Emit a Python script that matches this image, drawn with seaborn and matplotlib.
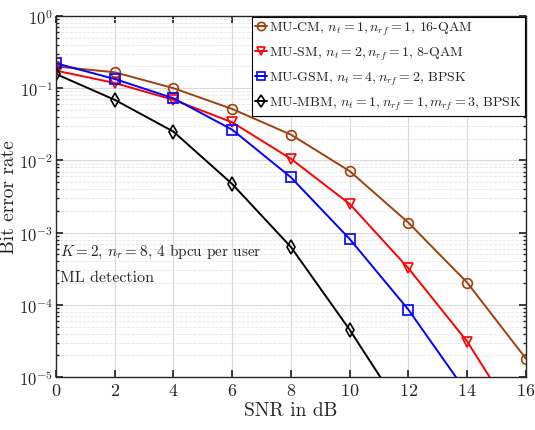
import matplotlib
matplotlib.use("Agg")
import matplotlib.pyplot as plt
import matplotlib.ticker as mticker
import pandas as pd
import seaborn as sns

snr_db = [0, 2, 4, 6, 8, 10, 12, 14, 16]

ber_cm = [0.20, 0.166, 0.100, 0.0515, 0.0227, 0.0071, 0.00137, 2.03e-4, 1.8e-5]
ber_sm = [0.175, 0.118, 0.069, 0.0337, 0.0105, 0.00249, 3.2e-4, 3.1e-5, 1.6e-6]
ber_gsm = [0.221, 0.134, 0.0725, 0.0266, 0.00582, 8.15e-4, 8.55e-5, 6.0e-6, 4.0e-7]
ber_mbm = [0.157, 0.069, 0.025, 0.0047, 6.3e-4, 4.5e-5, 2.5e-6, 1.5e-7, 1.0e-8]

labels = [
    r"MU-CM, $n_t=1, n_{rf}=1$, 16-QAM",
    r"MU-SM, $n_t=2, n_{rf}=1$, 8-QAM",
    r"MU-GSM, $n_t=4, n_{rf}=2$, BPSK",
    r"MU-MBM, $n_t=1, n_{rf}=1, m_{rf}=3$, BPSK",
]
colors = ["#A0400C", "#FF0000", "#0000FF", "#000000"]
markers = ["o", "v", "s", "d"]

sns.set_theme(style="ticks")
plt.rcParams["font.family"] = "serif"
plt.rcParams["font.serif"] = ["cmr10"]
plt.rcParams["mathtext.fontset"] = "cm"
plt.rcParams["axes.formatter.use_mathtext"] = True

fig = plt.figure(figsize=(5.35, 4.31), dpi=100)
ax = fig.add_axes([0.1047, 0.123, 0.8783, 0.8376])

for lab, ber, col, mk in zip(labels, [ber_cm, ber_sm, ber_gsm, ber_mbm], colors, markers):
    df = pd.DataFrame({"snr": snr_db, "ber": ber})
    sns.lineplot(data=df, x="snr", y="ber", ax=ax, color=col, marker=mk,
                 markersize=7, mfc="none", mec=col, mew=1.2, lw=1.4, label=lab)

ax.set_yscale("log")
ax.set_xlim(0, 16)
ax.set_ylim(1e-5, 1)
ax.set_xticks(range(0, 17, 2))
ax.yaxis.set_major_locator(mticker.LogLocator(base=10, numticks=10))
ax.yaxis.set_minor_locator(mticker.LogLocator(base=10, subs=range(2, 10), numticks=20))
ax.yaxis.set_minor_formatter(mticker.NullFormatter())

ax.grid(which="major", color="#d9d9d9", lw=0.8, ls="-")
ax.grid(which="minor", axis="y", color="#e6e6e6", lw=0.6, ls="--")
ax.set_axisbelow(True)
ax.tick_params(which="both", direction="in", top=True, right=True, colors="#262626")
ax.tick_params(axis="x", labelsize=13)
ax.tick_params(axis="y", labelsize=12, pad=2)
ax.tick_params(which="major", length=5)
ax.tick_params(which="minor", length=2.5)
for sp in ax.spines.values():
    sp.set_color("#262626")
    sp.set_linewidth(1.0)

ax.set_xlabel("SNR in dB", fontsize=14, labelpad=2)
ax.set_ylabel("Bit error rate", fontsize=14)
ax.yaxis.set_label_coords(-0.08, 0.5)

ax.text(0.12, 5.6e-4, r"$K=2$, $n_r=8$, 4 bpcu per user", fontsize=11, va="center")
ax.text(0.12, 2.4e-4, "ML detection", fontsize=11.5, va="center")

leg = ax.legend(loc="upper right", fontsize=10, handlelength=0.9, handletextpad=0.1,
                borderpad=0.25, labelspacing=0.55, borderaxespad=0.05, fancybox=False,
                framealpha=1, edgecolor="black", markerscale=0.85)
leg.get_frame().set_linewidth(0.8)

fig.savefig("out.png", dpi=100)
